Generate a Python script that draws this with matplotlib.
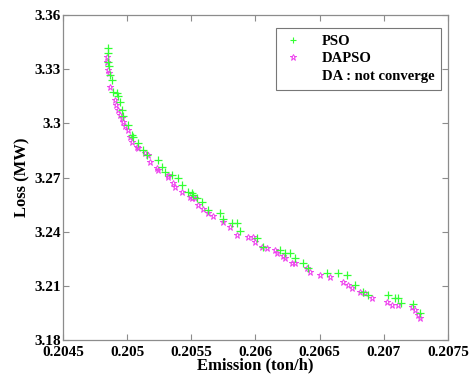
import matplotlib
matplotlib.use("Agg")
import matplotlib.pyplot as plt
from matplotlib.lines import Line2D

# ---------- data ----------
pso_emission = [
    0.204851, 0.204851, 0.204851, 0.204858, 0.204866, 0.204882, 0.204890, 0.204921,
    0.204929, 0.204944, 0.204960, 0.204968, 0.205006, 0.205038, 0.205045, 0.205084,
    0.205123, 0.205155, 0.205240, 0.205271, 0.205295, 0.205349, 0.205396, 0.205427,
    0.205474, 0.205505, 0.205513, 0.205544, 0.205583, 0.205630, 0.205723, 0.205747,
    0.205817, 0.205856, 0.205879, 0.206012, 0.206058, 0.206191, 0.206230, 0.206269,
    0.206308, 0.206370, 0.206409, 0.206557, 0.206643, 0.206713, 0.206775, 0.206838,
    0.206877, 0.207032, 0.207087, 0.207110, 0.207134, 0.207227, 0.207282,
]
pso_loss = [
    3.3417, 3.3390, 3.3340, 3.3318, 3.3268, 3.3240, 3.3174, 3.3168,
    3.3151, 3.3118, 3.3074, 3.3041, 3.2991, 3.2935, 3.2924, 3.2891,
    3.2852, 3.2825, 3.2797, 3.2758, 3.2731, 3.2714, 3.2697, 3.2659,
    3.2620, 3.2614, 3.2603, 3.2587, 3.2564, 3.2520, 3.2503, 3.2470,
    3.2448, 3.2448, 3.2404, 3.2365, 3.2315, 3.2299, 3.2282, 3.2282,
    3.2254, 3.2227, 3.2199, 3.2171, 3.2171, 3.2160, 3.2105, 3.2066,
    3.2049, 3.2049, 3.2033, 3.2033, 3.2005, 3.2000, 3.1950,
]

dapso_emission = [
    0.204843, 0.204843, 0.204851, 0.204858, 0.204866, 0.204905, 0.204913, 0.204929,
    0.204944, 0.204960, 0.204968, 0.204983, 0.205006, 0.205022, 0.205038, 0.205077,
    0.205084, 0.205139, 0.205162, 0.205178, 0.205232, 0.205240, 0.205318, 0.205318,
    0.205357, 0.205373, 0.205427, 0.205490, 0.205505, 0.205529, 0.205552, 0.205591,
    0.205630, 0.205669, 0.205747, 0.205801, 0.205856, 0.205942, 0.205980, 0.205996,
    0.206051, 0.206090, 0.206152, 0.206167, 0.206214, 0.206230, 0.206284, 0.206308,
    0.206401, 0.206425, 0.206503, 0.206580, 0.206682, 0.206721, 0.206752, 0.206814,
    0.206853, 0.206908, 0.207025, 0.207064, 0.207110, 0.207219, 0.207243, 0.207266,
    0.207282,
]
dapso_loss = [
    3.3367, 3.3340, 3.3295, 3.3279, 3.3201, 3.3129, 3.3102, 3.3074,
    3.3046, 3.3030, 3.3007, 3.2985, 3.2963, 3.2924, 3.2897, 3.2869,
    3.2863, 3.2836, 3.2825, 3.2786, 3.2753, 3.2742, 3.2714, 3.2703,
    3.2670, 3.2647, 3.2620, 3.2592, 3.2587, 3.2587, 3.2548, 3.2526,
    3.2503, 3.2487, 3.2454, 3.2426, 3.2382, 3.2371, 3.2371, 3.2343,
    3.2315, 3.2310, 3.2299, 3.2282, 3.2265, 3.2254, 3.2227, 3.2227,
    3.2199, 3.2177, 3.2160, 3.2149, 3.2121, 3.2105, 3.2088, 3.2066,
    3.2060, 3.2033, 3.2011, 3.1994, 3.1994, 3.1983, 3.1966, 3.1939,
    3.1922,
]

x_ticks = [0.2045, 0.205, 0.2055, 0.206, 0.2065, 0.207, 0.2075]
x_ticklabels = ["0.2045", "0.205", "0.2055", "0.206", "0.2065", "0.207", "0.2075"]
y_ticks = [3.18, 3.21, 3.24, 3.27, 3.3, 3.33, 3.36]
y_ticklabels = ["3.18", "3.21", "3.24", "3.27", "3.3", "3.33", "3.36"]

# ---------- style ----------
plt.rcParams["font.family"] = ["Liberation Serif", "DejaVu Serif"]
plt.rcParams["font.weight"] = "bold"

fig = plt.figure(figsize=(4.70, 3.81), dpi=100)
ax = fig.add_axes([0.134, 0.1076, 0.819, 0.853])

pso_color = "#33ff33"
dapso_color = "#ee44ee"

ax.plot(dapso_emission, dapso_loss, linestyle="none", marker="*", markersize=5,
        markerfacecolor="none", markeredgecolor=dapso_color, markeredgewidth=0.7)
ax.plot(pso_emission, pso_loss, linestyle="none", marker="+", markersize=5.5,
        color=pso_color, markeredgewidth=0.9)

ax.set_xlim(0.2045, 0.2075)
ax.set_ylim(3.18, 3.36)
ax.set_xticks(x_ticks)
ax.set_xticklabels(x_ticklabels)
ax.set_yticks(y_ticks)
ax.set_yticklabels(y_ticklabels)

for s in ax.spines.values():
    s.set_color("#8c8c8c")
    s.set_linewidth(0.9)
ax.tick_params(direction="in", length=4, width=0.8, color="#8c8c8c",
               top=True, right=True, labelsize=11)
ax.tick_params(axis="x", pad=4.5)
ax.tick_params(axis="y", pad=1.5)
for lab in ax.get_xticklabels() + ax.get_yticklabels():
    lab.set_fontweight("bold")

ax.set_xlabel("Emission (ton/h)", fontsize=12, fontweight="bold", labelpad=-1)
ax.set_ylabel("Loss (MW)", fontsize=12, fontweight="bold", labelpad=3)

handles = [
    Line2D([], [], linestyle="none", marker="+", markersize=5, color=pso_color,
           markeredgewidth=0.8),
    Line2D([], [], linestyle="none", marker="*", markersize=4.5, markerfacecolor="none",
           markeredgecolor=dapso_color, markeredgewidth=0.7),
    Line2D([], [], linestyle="none"),
]
leg = ax.legend(handles, ["PSO", "DAPSO", "DA : not converge"],
                loc="upper right", bbox_to_anchor=(0.982, 0.96), borderaxespad=0,
                frameon=True, fancybox=False, handlelength=1.5,
                handletextpad=1.2, borderpad=0.45, labelspacing=0.3,
                prop={"weight": "bold", "size": 10.5})
leg.get_frame().set_edgecolor("#555555")
leg.get_frame().set_linewidth(0.8)

fig.savefig("out.png", dpi=100)
